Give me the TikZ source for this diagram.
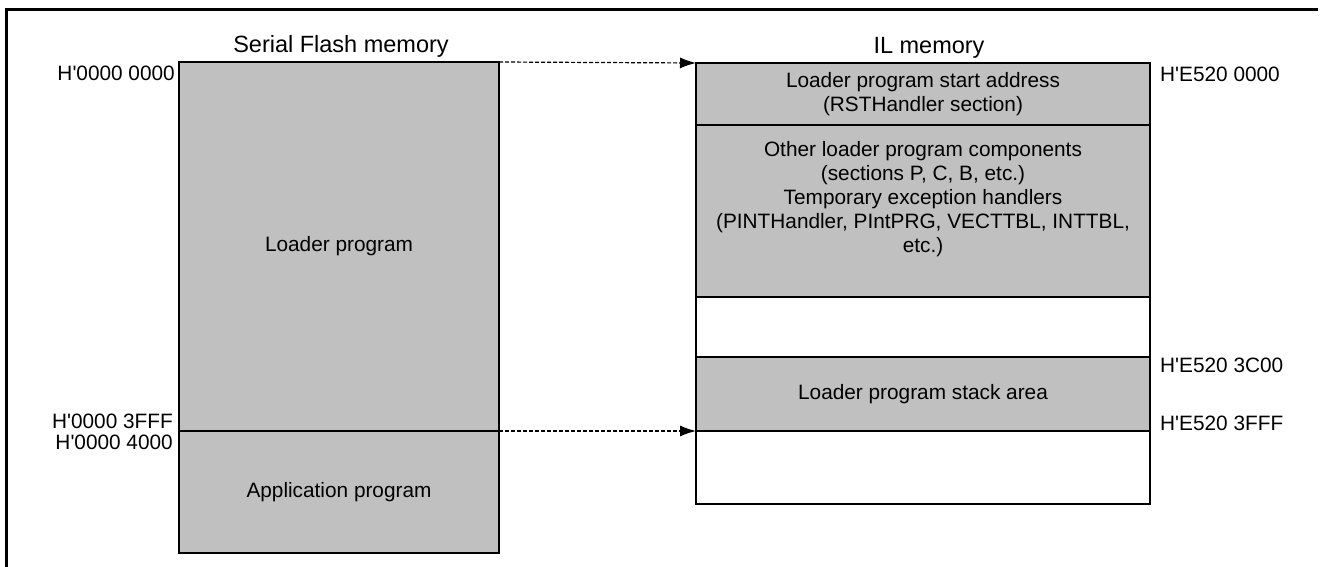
\documentclass[tikz,border=0pt]{standalone}
\usepackage{fontspec}
\setmainfont{Liberation Sans}
\usetikzlibrary{arrows.meta,positioning}
\definecolor{memgray}{HTML}{C0C0C0}
\newcommand{\hq}{H\textquotesingle}
\tikzset{
    memblock/.style={draw,line width=2pt,inner sep=0pt,outer sep=0pt,align=center,
        font=\fontsize{20.8}{24}\selectfont},
    memtitle/.style={inner sep=0pt,font=\fontsize{23.5}{28}\selectfont},
    addr/.style={inner sep=0pt,font=\fontsize{20.8}{24}\selectfont},
    maparrow/.style={line width=1.2pt,dash pattern=on 4pt off 2pt,-{Latex[length=16pt,width=11pt]}}
}
\begin{document}
\begin{tikzpicture}[x=1pt,y=-1pt]

                \useasboundingbox (0,0) rectangle (1328,567);
                \draw [line width=3pt] (6.5,567)--(6.5,10)--(1318,10);

                % serial flash
                \node [memblock,fill=memgray,minimum width=320pt,minimum height=369pt] (loader) at (339,246.5) {Loader program};
                \node [memblock,fill=memgray,minimum width=320pt,minimum height=122pt,below=0pt of loader] (app) {Application program};
                \node [memtitle,above=4pt of loader,xshift=2pt] (flashtitle) {Serial Flash memory};

                % IL memory
                \node [memblock,fill=memgray,minimum width=454pt,minimum height=62pt] (start) at (923,94) {Loader program start address\\(RSTHandler section)};
                \node [memblock,fill=memgray,minimum width=454pt,minimum height=172pt,below=0pt of start] (other) {};
                \node [memblock,draw=none,anchor=north] (othertext) at ([yshift=-16pt]other.north) {Other loader program components\\(sections P, C, B, etc.)\\Temporary exception handlers\\(PINTHandler, PIntPRG, VECTTBL, INTTBL,\\etc.)};
                \node [memblock,minimum width=454pt,minimum height=60pt,below=0pt of other] (gap) {};
                \node [memblock,fill=memgray,minimum width=454pt,minimum height=74pt,below=0pt of gap] (stack) {Loader program stack area};
                \node [memblock,minimum width=454pt,minimum height=73pt,below=0pt of stack] (free) {};
                \node [memtitle,above=4pt of start,xshift=6pt] (iltitle) {IL memory};

                % addresses
                \node [addr,anchor=north east] (a0) at ([xshift=-4pt,yshift=-4pt]loader.north west) {\hq0000 0000};
                \node [addr,anchor=base east] (a3fff) at ([xshift=-6pt,yshift=3pt]loader.south west) {\hq0000 3FFF};
                \node [addr,anchor=north east] (a4000) at ([xshift=-6pt,yshift=-4pt]app.north west) {\hq0000 4000};
                \node [addr,anchor=north west] (e0) at ([xshift=10pt,yshift=-4pt]start.north east) {\hq E520 0000};
                \node [addr,anchor=north west] (e3c00) at ([xshift=10pt,yshift=-1pt]stack.north east) {\hq E520 3C00};
                \node [addr,anchor=base west] (e3fff) at ([xshift=10pt,yshift=1pt]stack.south east) {\hq E520 3FFF};

                \draw [maparrow] (loader.north east)--(start.north west);
                \draw [maparrow] (loader.south east)--(stack.south west);
\end{tikzpicture}
\end{document}
